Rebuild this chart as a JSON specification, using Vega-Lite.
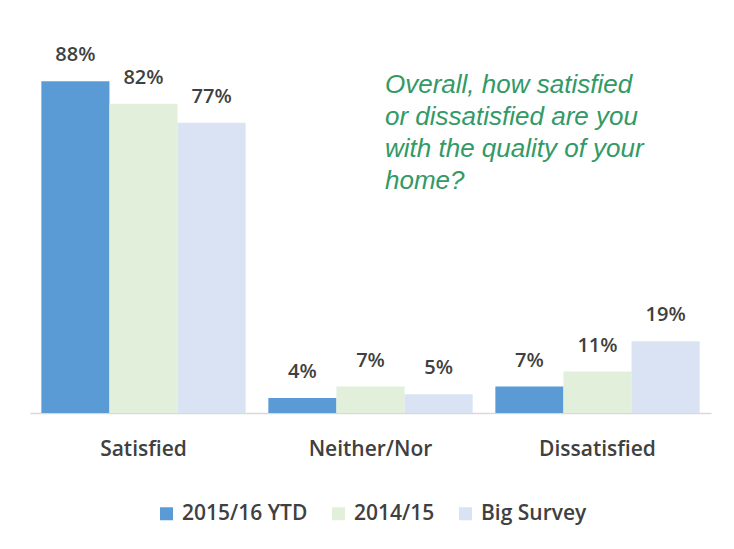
{
  "$schema": "https://vega.github.io/schema/vega-lite/v6.json",
  "width": 681,
  "height": 377,
  "autosize": {"type": "none"},
  "padding": {"left": 30, "top": 36, "right": 23, "bottom": 136},
  "background": "white",
  "config": {"view": {"stroke": null}, "font": "Open Sans"},
  "datasets": {
    "bars": [
      {"category": "Satisfied", "series": "2015/16 YTD", "value": 88, "label": "88%"},
      {"category": "Satisfied", "series": "2014/15", "value": 82, "label": "82%"},
      {"category": "Satisfied", "series": "Big Survey", "value": 77, "label": "77%"},
      {"category": "Neither/Nor", "series": "2015/16 YTD", "value": 4, "label": "4%"},
      {"category": "Neither/Nor", "series": "2014/15", "value": 7, "label": "7%"},
      {"category": "Neither/Nor", "series": "Big Survey", "value": 5, "label": "5%"},
      {"category": "Dissatisfied", "series": "2015/16 YTD", "value": 7, "label": "7%"},
      {"category": "Dissatisfied", "series": "2014/15", "value": 11, "label": "11%"},
      {"category": "Dissatisfied", "series": "Big Survey", "value": 19, "label": "19%"}
    ],
    "note": [
      {"category": "Neither/Nor", "value": 85, "text": "Overall, how satisfied\nor dissatisfied are you\nwith the quality of your\nhome?"}
    ]
  },
  "layer": [
    {
      "data": {"name": "bars"},
      "mark": {"type": "bar"},
      "encoding": {
        "x": {
          "field": "category", "type": "nominal",
          "sort": ["Satisfied", "Neither/Nor", "Dissatisfied"],
          "scale": {"paddingInner": 0.1, "paddingOuter": 0.05},
          "axis": {
            "title": null, "ticks": false, "tickSize": 0, "labelAngle": 0,
            "labelFont": "Open Sans", "labelFontSize": 21, "labelFontWeight": 600,
            "labelColor": "#404040", "labelBaseline": "top", "labelPadding": 25,
            "domainColor": "#d9d9d9", "domainWidth": 1.5, "grid": false
          }
        },
        "xOffset": {
          "field": "series", "type": "nominal",
          "sort": ["2015/16 YTD", "2014/15", "Big Survey"],
          "scale": {"paddingInner": 0, "paddingOuter": 0}
        },
        "y": {
          "field": "value", "type": "quantitative",
          "scale": {"domain": [0, 100], "nice": false},
          "axis": null
        },
        "color": {
          "field": "series", "type": "nominal",
          "sort": ["2015/16 YTD", "2014/15", "Big Survey"],
          "scale": {
            "domain": ["2015/16 YTD", "2014/15", "Big Survey"],
            "range": ["#5B9BD5", "#E2EFDA", "#DAE3F3"]
          },
          "legend": {
            "title": null, "orient": "none", "direction": "horizontal",
            "legendX": 126, "legendY": 467, "padding": 0,
            "symbolType": "square", "symbolSize": 169, "symbolStrokeWidth": 0,
            "symbolOpacity": 1,
            "labelFont": "Open Sans", "labelFontSize": 21, "labelFontWeight": 600,
            "labelColor": "#404040", "labelOffset": 5, "columnPadding": 20
          }
        }
      }
    },
    {
      "data": {"name": "bars"},
      "mark": {"type": "text", "baseline": "alphabetic", "dy": -20, "font": "Open Sans", "fontSize": 20, "fontWeight": 600, "color": "#404040"},
      "encoding": {
        "x": {"field": "category", "type": "nominal", "sort": ["Satisfied", "Neither/Nor", "Dissatisfied"]},
        "xOffset": {"field": "series", "type": "nominal", "sort": ["2015/16 YTD", "2014/15", "Big Survey"]},
        "y": {"field": "value", "type": "quantitative"},
        "text": {"field": "label"}
      }
    },
    {
      "data": {"name": "note"},
      "mark": {"type": "text", "align": "left", "baseline": "alphabetic", "lineBreak": "\n", "lineHeight": 32, "font": "Liberation Sans", "fontStyle": "italic", "fontSize": 26, "color": "#339966"},
      "encoding": {
        "x": {"field": "category", "type": "nominal", "sort": ["Satisfied", "Neither/Nor", "Dissatisfied"], "bandPosition": 0.571},
        "y": {"field": "value", "type": "quantitative"},
        "text": {"field": "text"}
      }
    }
  ]
}
